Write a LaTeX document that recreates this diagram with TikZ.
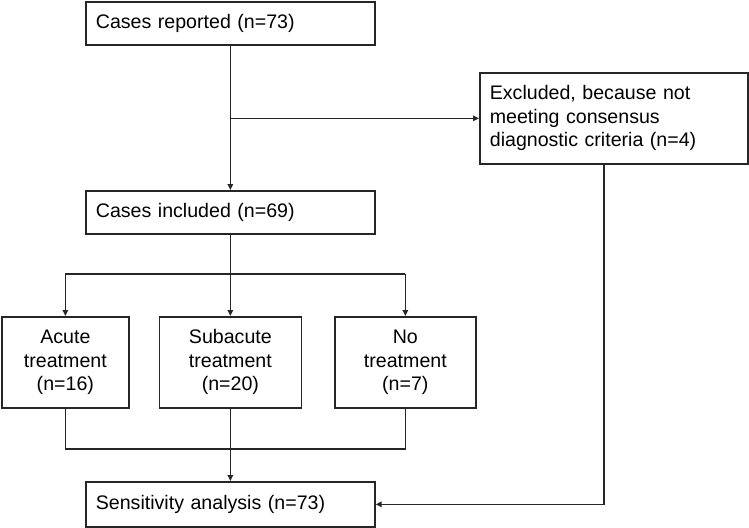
\documentclass[tikz,border=0pt]{standalone}
\usepackage{fontspec}
\setmainfont{Liberation Sans}
\usetikzlibrary{arrows.meta,calc}
\begin{document}
\begin{tikzpicture}[x=1pt,y=-1pt,
  box/.style={draw=black!85,line width=1.7pt,anchor=north west,inner xsep=10pt,inner ysep=0pt,
    font=\fontsize{19.6}{23.5}\selectfont},
  lbox/.style={box,align=left},
  tbox/.style={box,align=center,inner xsep=2pt,minimum height=91pt},
  conn/.style={draw=black!85,line width=1.7pt},
  arr/.style={conn,-{Triangle[length=6pt,width=5.5pt]}}]
\useasboundingbox (0,0) rectangle (749,527);
\node[lbox,text width=269pt,minimum height=43pt] (rep) at (85,1) {Cases reported (n=73)};
\node[lbox,text width=248pt,minimum height=91pt] (exc) at (479,72) {Excluded, because not\\meeting consensus\\diagnostic criteria (n=4)};
\node[lbox,text width=269pt,minimum height=43pt] (inc) at (85,190) {Cases included (n=69)};
\node[tbox,text width=123pt,minimum width=127pt] (acu) at (1,316) {Acute\\treatment\\(n=16)};
\node[tbox,text width=138pt,minimum width=142pt] (sub) at (158.5,316) {Subacute\\treatment\\(n=20)};
\node[tbox,text width=137pt,minimum width=141pt] (non) at (334,316) {No\\treatment\\(n=7)};
\node[lbox,text width=269pt,minimum height=45pt] (sen) at (85,481) {Sensitivity analysis (n=73)};
% top
\draw[arr] (rep.south) -- (inc.north);
\coordinate (b1) at (rep.south |- exc.west);
\draw[arr] (b1) -- (exc.west);
% split
\coordinate (s0) at (inc.south |- 0,274);
\coordinate (sl) at (acu.north |- s0);
\coordinate (sr) at (non.north |- s0);
\draw[conn] (inc.south) -- (s0);
\draw[conn] (sl) -- (sr);
\draw[arr] (sl) -- (acu.north);
\draw[arr] (s0) -- (sub.north);
\draw[arr] (sr) -- (non.north);
% merge
\coordinate (m0) at (sub.south |- 0,449);
\coordinate (ml) at (acu.south |- m0);
\coordinate (mr) at (non.south |- m0);
\draw[conn] (acu.south) -- (ml) -- (mr) -- (non.south);
\draw[conn] (sub.south) -- (m0);
\draw[arr] (m0) -- (sen.north);
% excluded to sensitivity
\coordinate (e0) at (604,163);
\coordinate (e1) at (e0 |- sen.east);
\draw[arr] (e0) -- (e1) -- (sen.east);
\end{tikzpicture}
\end{document}
